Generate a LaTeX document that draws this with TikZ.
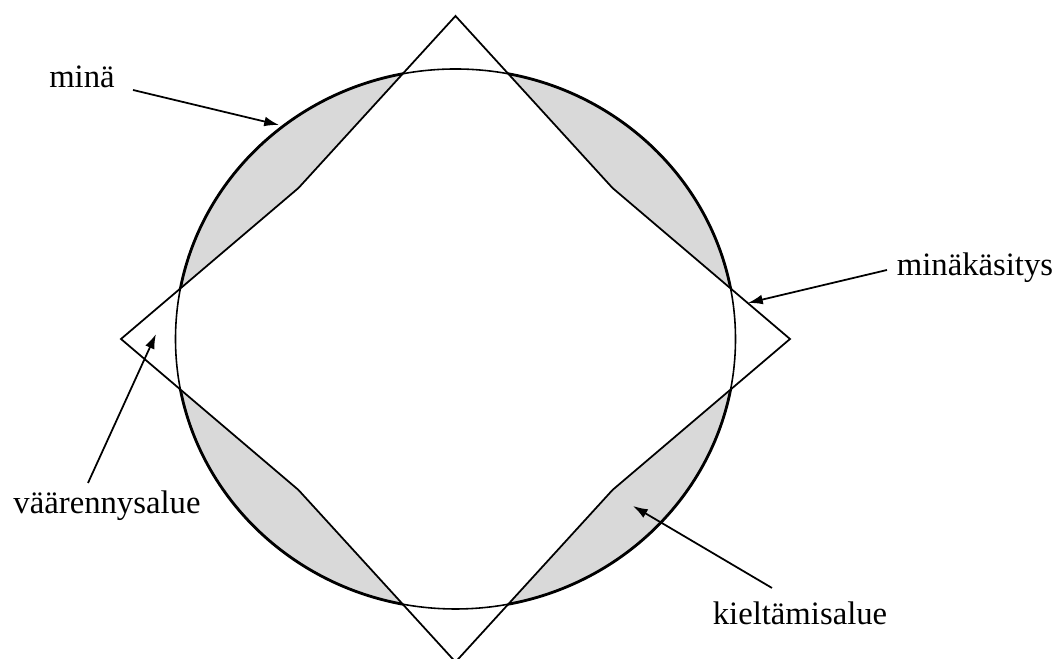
\documentclass[tikz,border=0pt]{standalone}
\usepackage{fontspec}
\setmainfont{Liberation Serif}
\usetikzlibrary{arrows.meta}

\begin{document}
\begin{tikzpicture}[x={(0.01cm,0)}, y={(0,-0.01cm)},
    lbl/.style={font=\fontsize{9.3}{11}\selectfont, inner sep=1pt},
    arr/.style={line width=0.5pt, -{Latex[length=4.2pt, width=2.8pt]}},
    edge/.style={line width=0.5pt, line join=miter}]
\useasboundingbox (0,0) rectangle (1057,659);

% minä ja minäkäsitys
\coordinate (c) at (455.5,339);
\def\octagon{(455.5,16) -- (612.5,188) -- (790,339) -- (612.5,490) -- (455.5,662) -- (298.5,490) -- (121,339) -- (298.5,188) -- cycle}
\fill[black!15] (c) ellipse [x radius=280, y radius=270];
\fill[white] \octagon;
\draw[line width=0.45pt] (c) ellipse [x radius=280, y radius=270];
\begin{scope}[even odd rule]
  \clip (0,0) rectangle (1057,659) \octagon;
  \draw[line width=0.8pt] (c) ellipse [x radius=280, y radius=270];
\end{scope}
\draw[edge] \octagon;

% tekstit
\node[lbl] (mina) at (82,77) {minä};
\node[lbl] (kasitys) at (975,268) {minäkäsitys};
\node[lbl] (vaarennys) at (107,506) {väärennysalue};
\node[lbl] (kielto) at (800,613) {kieltämisalue};

% nuolet
\coordinate (minat) at (133,90);
\coordinate (minah) at (279,125);
\coordinate (kasitt) at (887,270);
\coordinate (kasith) at (748,303);
\coordinate (vaart) at (88,483);
\coordinate (vaarh) at (156,334);
\coordinate (kieltt) at (772,588);
\coordinate (kielth) at (633,506);
\draw[arr] (minat) -- (minah);
\draw[arr] (kasitt) -- (kasith);
\draw[arr] (vaart) -- (vaarh);
\draw[arr] (kieltt) -- (kielth);
\end{tikzpicture}
\end{document}
